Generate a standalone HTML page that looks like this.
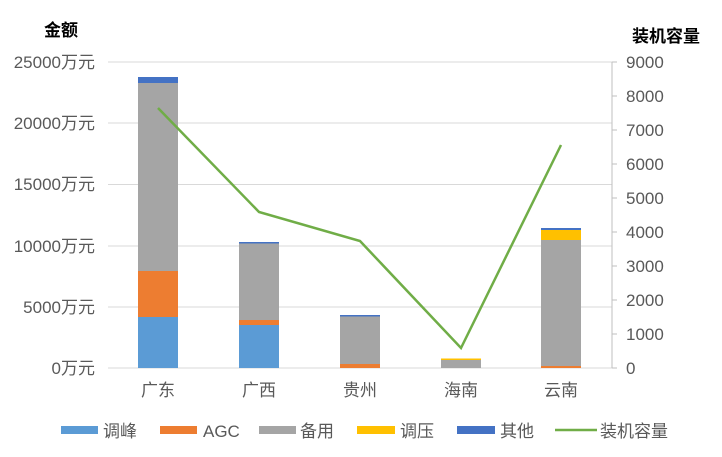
<!DOCTYPE html>
<html><head><meta charset="utf-8"><style>
body{margin:0;background:#fff;}
svg text{font-family:"Liberation Sans","Noto Sans CJK SC",sans-serif;fill:#595959;}
</style></head><body>
<svg width="722" height="452" viewBox="0 0 722 452">
<rect width="722" height="452" fill="#fff"/>
<g stroke="#d9d9d9" stroke-width="1">
<line x1="108" y1="62" x2="612" y2="62"/>
<line x1="108" y1="123" x2="612" y2="123"/>
<line x1="108" y1="184.5" x2="612" y2="184.5"/>
<line x1="108" y1="246" x2="612" y2="246"/>
<line x1="108" y1="307" x2="612" y2="307"/>
<line x1="108" y1="368" x2="612" y2="368"/>
</g>
<g stroke="#bfbfbf" stroke-width="1">
<line x1="612" y1="62" x2="612" y2="368"/>
<line x1="612" y1="62" x2="617" y2="62"/>
<line x1="612" y1="96" x2="617" y2="96"/>
<line x1="612" y1="130" x2="617" y2="130"/>
<line x1="612" y1="164" x2="617" y2="164"/>
<line x1="612" y1="198" x2="617" y2="198"/>
<line x1="612" y1="232" x2="617" y2="232"/>
<line x1="612" y1="266" x2="617" y2="266"/>
<line x1="612" y1="300" x2="617" y2="300"/>
<line x1="612" y1="334" x2="617" y2="334"/>
<line x1="612" y1="368" x2="617" y2="368"/>
</g>
<g>
<rect x="138" y="317" width="40" height="51" fill="#5b9bd5"/>
<rect x="138" y="271" width="40" height="46" fill="#ed7d31"/>
<rect x="138" y="83" width="40" height="188" fill="#a5a5a5"/>
<rect x="138" y="77" width="40" height="6" fill="#4472c4"/>

<rect x="239" y="325" width="40" height="43" fill="#5b9bd5"/>
<rect x="239" y="320" width="40" height="5" fill="#ed7d31"/>
<rect x="239" y="243" width="40" height="77" fill="#a5a5a5"/>
<rect x="239" y="242" width="40" height="1.5" fill="#4472c4"/>

<rect x="340" y="364" width="40" height="4" fill="#ed7d31"/>
<rect x="340" y="316" width="40" height="48" fill="#a5a5a5"/>
<rect x="340" y="315" width="40" height="1.5" fill="#4472c4"/>

<rect x="441" y="360" width="40" height="8" fill="#a5a5a5"/>
<rect x="441" y="358.5" width="40" height="1.5" fill="#ffc000"/>

<rect x="541" y="366" width="40" height="2" fill="#ed7d31"/>
<rect x="541" y="240" width="40" height="126" fill="#a5a5a5"/>
<rect x="541" y="230" width="40" height="10" fill="#ffc000"/>
<rect x="541" y="228" width="40" height="2" fill="#4472c4"/>
</g>
<polyline points="158,108 259,212 360,241 461,348 561,145" fill="none" stroke="#70ad47" stroke-width="2.5"/>
<g font-size="17" text-anchor="end">
<text x="95" y="68">25000万元</text>
<text x="95" y="129">20000万元</text>
<text x="95" y="190">15000万元</text>
<text x="95" y="252">10000万元</text>
<text x="95" y="313">5000万元</text>
<text x="95" y="374">0万元</text>
</g>
<g font-size="17">
<text x="626" y="68">9000</text>
<text x="626" y="102">8000</text>
<text x="626" y="136">7000</text>
<text x="626" y="170">6000</text>
<text x="626" y="204">5000</text>
<text x="626" y="238">4000</text>
<text x="626" y="272">3000</text>
<text x="626" y="306">2000</text>
<text x="626" y="340">1000</text>
<text x="626" y="374">0</text>
</g>
<g font-size="17" text-anchor="middle">
<text x="158" y="396">广东</text>
<text x="259" y="396">广西</text>
<text x="360" y="396">贵州</text>
<text x="461" y="396">海南</text>
<text x="561" y="396">云南</text>
</g>
<text x="44" y="36" font-size="17" font-weight="bold" style="fill:#000">金额</text>
<text x="632" y="42" font-size="17" font-weight="bold" style="fill:#000">装机容量</text>
<g font-size="17">
<rect x="61" y="426" width="37" height="8" fill="#5b9bd5"/><text x="103" y="437">调峰</text>
<rect x="160" y="426" width="37" height="8" fill="#ed7d31"/><text x="203" y="437">AGC</text>
<rect x="259" y="426" width="37" height="8" fill="#a5a5a5"/><text x="300" y="437">备用</text>
<rect x="357" y="426" width="38" height="8" fill="#ffc000"/><text x="400" y="437">调压</text>
<rect x="457" y="426" width="38" height="8" fill="#4472c4"/><text x="500" y="437">其他</text>
<line x1="555" y1="430" x2="597" y2="430" stroke="#70ad47" stroke-width="2.5"/><text x="600" y="437">装机容量</text>
</g>
</svg>
</body></html>
